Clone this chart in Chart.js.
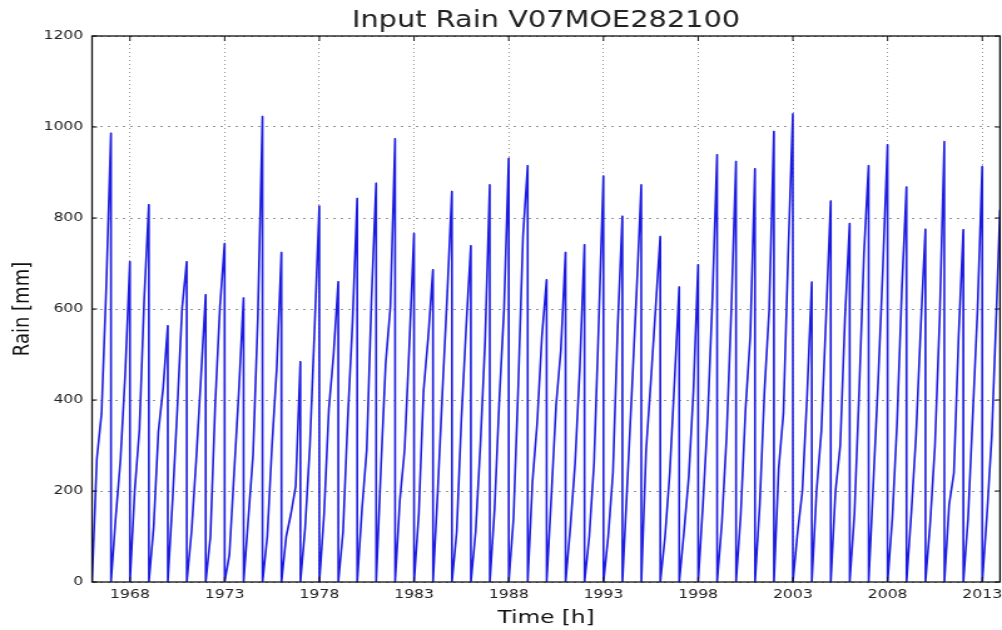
<!DOCTYPE html>
<html>
<head>
<meta charset="utf-8">
<title>Input Rain V07MOE282100</title>
<script src="https://cdn.jsdelivr.net/npm/chart.js@4/dist/chart.umd.min.js"></script>
<style>
  html, body { margin: 0; padding: 0; background: #fff; overflow: hidden; }
  #wrap { width: 1002px; height: 630px; overflow: hidden; }
  /* the figure is laid out on an 800px-wide canvas and widened to the page */
  #rain { display: block; transform: scaleX(1.2525); transform-origin: 0 0; }
</style>
</head>
<body>
<div id="wrap"><canvas id="rain" width="800" height="630"></canvas></div>
<script>
// Cumulative rainfall within each year [mm]; the total resets at every new year.
const years = [1966, 1967, 1968, 1969, 1970, 1971, 1972, 1973, 1974, 1975,
               1976, 1977, 1978, 1979, 1980, 1981, 1982, 1983, 1984, 1985,
               1986, 1987, 1988, 1989, 1990, 1991, 1992, 1993, 1994, 1995,
               1996, 1997, 1998, 1999, 2000, 2001, 2002, 2003, 2004, 2005,
               2006, 2007, 2008, 2009, 2010, 2011, 2012, 2013];
// running total at the end of March, June and September
const rainQ1 = [270, 143, 200, 120, 180, 110, 100,  60, 140, 100,
                100, 120, 150, 110, 160, 250, 180, 150, 200, 110,
                110, 160, 140, 220, 190, 120, 100, 100, 210, 290,
                100, 110, 170, 130, 150, 170, 250, 110, 200, 200,
                150, 220, 140, 150, 130, 170, 140, 150];
const rainQ2 = [370, 268, 334, 330, 380, 270, 390, 240, 280, 300,
                150, 300, 380, 360, 290, 480, 290, 420, 420, 360,
                300, 400, 430, 350, 390, 260, 260, 240, 420, 440,
                240, 230, 360, 320, 380, 420, 370, 200, 330, 300,
                420, 440, 350, 320, 300, 240, 370, 320];
const rainQ3 = [650, 458, 620, 425, 600, 450, 605, 420, 580, 470,
                210, 560, 500, 570, 620, 605, 520, 540, 630, 560,
                530, 600, 760, 540, 510, 470, 570, 560, 640, 600,
                440, 420, 620, 600, 540, 600, 720, 410, 580, 580,
                720, 690, 640, 560, 580, 540, 600, 600];
// year totals; the 2013 record stops before the year is complete
const rainTotal = [986, 704, 829, 563, 704, 631, 744, 624, 1023, 724,
                   484, 826, 660, 843, 876, 974, 766, 686, 858, 739,
                   873, 931, 915, 664, 724, 741, 892, 804, 873, 759,
                   648, 697, 939, 924, 908, 990, 1029, 659, 837, 788,
                   915, 961, 868, 775, 968, 774, 913, 818];
const recordStart = 1966.0;
const recordEnd = 2013.935;

const tickYears = [1968, 1973, 1978, 1983, 1988, 1993, 1998, 2003, 2008, 2013];
const rainTicks = [0, 200, 400, 600, 800, 1000, 1200];

// time series: reset at each 1 January, quarterly totals, year-end total
const series = [];
years.forEach((yr, i) => {
  const last = i === years.length - 1;
  series.push({ x: yr, y: 0 });
  series.push({ x: yr + 0.25, y: rainQ1[i] });
  series.push({ x: yr + 0.5, y: rainQ2[i] });
  series.push({ x: yr + 0.75, y: rainQ3[i] });
  series.push({ x: last ? recordEnd : yr + 0.995, y: rainTotal[i] });
});

const FONT = "'DejaVu Sans', 'Bitstream Vera Sans', sans-serif";
const INK = '#222';
const GRID = 'rgba(0,0,0,0.42)';

// axes frame with inward tick marks on all four sides
const framePlugin = {
  id: 'frame',
  afterDatasetsDraw(chart) {
    const { ctx, chartArea: a, scales: { x, y } } = chart;
    ctx.save();
    ctx.strokeStyle = '#111';
    ctx.lineWidth = 1;
    ctx.beginPath();
    x.ticks.forEach(t => {
      const px = x.getPixelForValue(t.value);
      ctx.moveTo(px, a.bottom); ctx.lineTo(px, a.bottom - 5);
      ctx.moveTo(px, a.top); ctx.lineTo(px, a.top + 5);
    });
    y.ticks.forEach(t => {
      const py = y.getPixelForValue(t.value);
      ctx.moveTo(a.left, py); ctx.lineTo(a.left + 4, py);
      ctx.moveTo(a.right, py); ctx.lineTo(a.right - 4, py);
    });
    ctx.stroke();
    ctx.lineWidth = 1.3;
    ctx.strokeRect(a.left, a.top, a.right - a.left, a.bottom - a.top);
    ctx.restore();
  }
};

new Chart(document.getElementById('rain'), {
  type: 'line',
  data: {
    datasets: [{
      label: 'Rain',
      data: series,
      borderColor: '#1c1ce0',
      borderWidth: 1.6,
      borderJoinStyle: 'round',
      pointRadius: 0,
      tension: 0,
      fill: false
    }]
  },
  options: {
    responsive: false,
    animation: false,
    devicePixelRatio: 1,
    layout: { padding: { left: 0, right: 1.6, top: 0, bottom: 0 } },
    plugins: {
      legend: { display: false },
      tooltip: { enabled: false },
      title: {
        display: true,
        text: 'Input Rain V07MOE282100',
        fullSize: false,
        color: INK,
        font: { family: FONT, size: 23, weight: 'normal' },
        padding: { top: 7, bottom: 1.4 }
      }
    },
    scales: {
      x: {
        type: 'linear',
        min: recordStart,
        max: recordEnd,
        afterBuildTicks: s => { s.ticks = tickYears.map(v => ({ value: v })); },
        afterFit: s => { s.height = 48; s.paddingLeft = 0; s.paddingRight = 0; },
        ticks: {
          autoSkip: false, maxRotation: 0, padding: 5, color: INK,
          font: { family: FONT, size: 12.5 },
          callback: v => String(v)
        },
        grid: { color: GRID, lineWidth: 1, drawTicks: false, borderDash: [1, 3] },
        border: { display: false, dash: [1, 3] },
        title: {
          display: true, text: 'Time [h]', color: '#111',
          font: { family: FONT, size: 18.5 },
          padding: { top: 0, bottom: 0.9 }
        }
      },
      y: {
        min: 0,
        max: 1200,
        afterBuildTicks: s => { s.ticks = rainTicks.map(v => ({ value: v })); },
        afterFit: s => { s.width = 73.5; },
        ticks: {
          padding: 7, color: INK,
          font: { family: FONT, size: 12.5 },
          callback: v => String(v)
        },
        grid: { color: GRID, lineWidth: 1, drawTicks: false, borderDash: [2, 4] },
        border: { display: false, dash: [2, 4] },
        title: {
          display: true, text: 'Rain [mm]', color: '#111',
          font: { family: FONT, size: 18 },
          padding: { top: 7.6, bottom: 0 }
        }
      }
    }
  },
  plugins: [framePlugin]
});
</script>
</body>
</html>
